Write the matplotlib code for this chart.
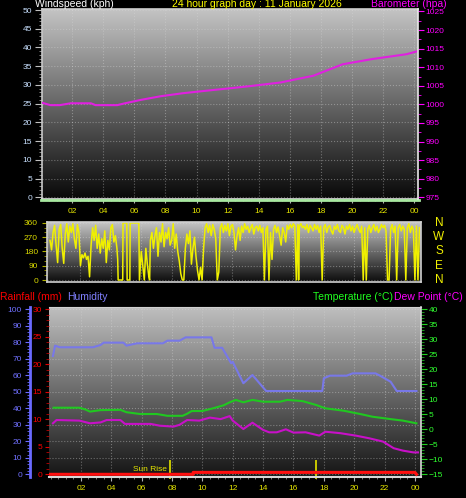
import numpy as np
import matplotlib
matplotlib.use("Agg")
import matplotlib.pyplot as plt
import matplotlib.transforms as mtransforms
from matplotlib.colors import LinearSegmentedColormap
from matplotlib.ticker import MultipleLocator

plt.rcParams.update({"font.family": ["Liberation Sans", "DejaVu Sans"], "font.size": 6})

W, H = 466, 498
PT = 0.72  # points per pixel at 100 dpi

# ---- data ----
hour_ticks = [2, 4, 6, 8, 10, 12, 14, 16, 18, 20, 22, 24]
hour_labels = ["02", "04", "06", "08", "10", "12", "14", "16", "18", "20", "22", "00"]

wind_h = [0.0, 24.3]
wind_kph = [0, 0]

baro_h = [0.1, 0.6, 1.2, 1.9, 3.2, 3.5, 4.9, 5.4, 6.4, 7.7, 9.1, 10.9, 12.3, 13.4,
          15.4, 17.5, 19.4, 21.3, 23.5, 24.2]
baro_hpa = [1000.4, 999.8, 999.8, 1000.3, 1000.3, 999.8, 999.8, 1000.3, 1001.2, 1002.2,
            1003.0, 1003.8, 1004.4, 1004.9, 1005.9, 1007.7, 1010.8, 1012.2, 1013.5, 1014.3]

wdir_h = [0.0, 0.1, 0.2, 0.3, 0.4, 0.5, 0.6, 0.7, 0.8, 0.9, 1.0, 1.1, 1.2, 1.3, 1.4, 1.5,
          1.6, 1.7, 1.8, 1.9, 2.0, 2.1, 2.2, 2.3, 2.4, 2.5, 2.6, 2.7, 2.8, 2.9, 3.0, 3.1,
          3.2, 3.3, 3.4, 3.5, 3.6, 3.7, 3.8, 3.9, 4.0, 4.1, 4.2, 4.3, 4.4, 4.45, 4.48, 4.78,
          4.8, 5.05, 5.07, 5.25, 5.27, 5.84, 5.88, 5.95, 6.0, 6.1, 6.2, 6.3, 6.4, 6.5, 6.55,
          6.6, 6.7, 6.8, 6.9, 7.0, 7.1, 7.2, 7.3, 7.4, 7.5, 7.6, 7.7, 7.8, 7.9, 8.0, 8.1,
          8.2, 8.3, 8.4, 8.5, 8.6, 8.7, 8.8, 8.9, 9.0, 9.1, 9.2, 9.3, 9.4, 9.5, 9.6, 9.7,
          9.8, 9.9, 10.0, 10.1, 10.2, 10.3, 10.4, 10.5, 10.6, 10.7, 10.8, 10.9, 11.0, 11.1,
          11.2, 11.3, 11.4, 11.5, 11.6, 11.7, 11.8, 11.9, 12.0, 12.1, 12.2, 12.3, 12.4,
          12.5, 12.6, 12.7, 12.8, 12.9, 13.0, 13.1, 13.2, 13.3, 13.4, 13.5, 13.6, 13.7,
          13.8, 13.9, 14.0, 14.1, 14.2, 14.3, 14.4, 14.5, 14.6, 14.7, 14.8, 14.9, 15.0,
          15.1, 15.2, 15.3, 15.4, 15.5, 15.6, 15.7, 15.8, 15.9, 16.0, 16.1, 16.2, 16.3,
          16.35, 16.4, 16.5, 16.6, 16.7, 16.8, 16.9, 17.0, 17.1, 17.2, 17.3, 17.4, 17.5,
          17.6, 17.7, 17.8, 17.9, 18.0, 18.1, 18.2, 18.3, 18.4, 18.5, 18.6, 18.7, 18.8,
          18.9, 19.0, 19.1, 19.2, 19.3, 19.4, 19.5, 19.6, 19.7, 19.8, 19.9, 20.0, 20.1,
          20.2, 20.3, 20.4, 20.5, 20.6, 20.7, 20.8, 20.9, 21.0, 21.1, 21.2, 21.3, 21.4,
          21.5, 21.6, 21.7, 21.8, 21.9, 22.0, 22.1, 22.2, 22.3, 22.4, 22.5, 22.6, 22.7,
          22.8, 22.9, 23.0, 23.1, 23.2, 23.3, 23.4, 23.5, 23.6, 23.7, 23.8, 23.9, 24.0,
          24.1, 24.2, 24.3]
wdir_deg = [250, 190, 300, 345, 220, 110, 320, 350, 200, 105, 290, 355, 240, 340, 300, 355,
            260, 200, 350, 300, 90, 160, 140, 170, 130, 150, 20, 220, 330, 250, 345, 200,
            290, 170, 260, 200, 310, 110, 250, 190, 330, 350, 240, 280, 200, 130, 0, 0,
            360, 360, 0, 0, 360, 360, 0, 100, 180, 90, 0, 200, 100, 20, 0,
            250, 300, 200, 280, 330, 150, 300, 240, 355, 210, 300, 260, 330, 220, 250, 355,
            200, 290, 180, 120, 40, 0, 0, 200, 290, 230, 310, 100, 200, 270, 150, 60,
            0, 80, 0, 200, 330, 355, 300, 345, 280, 350, 320, 260, 0, 50,
            330, 355, 300, 345, 310, 355, 280, 340, 350, 300, 190, 280, 330,
            250, 340, 300, 355, 320, 340, 300, 330, 350, 290, 330, 340, 310,
            345, 300, 330, 0, 320, 340, 0, 300, 130, 320, 345, 300, 335,
            280, 220, 330, 300, 240, 345, 320, 350, 330, 355, 340, 0, 350,
            0, 340, 355, 330, 340, 320, 350, 300, 345, 330, 310, 350, 320,
            345, 300, 340, 0, 330, 350, 300, 335, 345, 310, 290, 340, 320,
            350, 310, 300, 345, 330, 290, 340, 320, 350, 310, 340, 300, 330,
            350, 320, 300, 340, 0, 330, 0, 320, 345, 300, 330, 350, 310,
            340, 300, 320, 350, 330, 345, 310, 0, 0, 320, 350, 300, 340,
            0, 330, 350, 310, 340, 320, 0, 330, 355, 300, 340, 320, 0,
            340, 0, 330]

temp_h = [0.2, 1.9, 2.3, 2.6, 3.3, 4.6, 5.0, 5.9, 7.0, 7.7, 8.7, 9.0, 9.3, 10.0, 10.7,
          11.4, 11.8, 12.2, 12.7, 13.3, 14.0, 15.1, 15.6, 16.1, 16.6, 17.5, 18.1, 19.3,
          20.4, 21.2, 22.4, 23.2, 24.1]
temp_c = [7.2, 7.2, 6.6, 5.9, 6.4, 6.5, 5.7, 5.1, 5.1, 4.5, 4.5, 5.2, 6.1, 6.1, 7.0,
          8.0, 9.0, 9.8, 9.0, 9.8, 9.2, 9.2, 9.8, 9.6, 9.4, 8.1, 7.0, 6.2,
          5.1, 4.2, 3.4, 2.9, 2.0]

dew_h = [0.16, 0.4, 1.9, 2.6, 3.3, 3.7, 4.6, 4.9, 6.6, 7.2, 8.1, 8.5, 9.0, 9.8, 10.5,
         11.2, 11.8, 12.0, 12.7, 13.3, 14.0, 14.4, 14.9, 15.5, 16.0, 16.8, 17.7, 18.1,
         19.1, 20.1, 21.0, 21.9, 22.6, 23.2, 23.9, 24.2]
dew_c = [2.0, 3.1, 2.9, 2.0, 2.3, 3.1, 3.1, 1.8, 1.8, 1.2, 0.9, 1.5, 3.1, 2.9, 3.9,
         3.4, 4.4, 2.9, 0.1, 2.2, -0.2, -1.0, -1.0, 0.0, -1.1, -1.0, -2.1, -0.8,
         -1.3, -2.1, -3.0, -4.1, -6.3, -7.1, -7.7, -7.7]

hum_h = [0.16, 0.3, 0.6, 2.8, 3.3, 3.5, 4.8, 5.0, 5.7, 7.4, 7.7, 8.5, 8.9, 10.6, 10.8,
         11.3, 11.9, 12.0, 12.7, 13.3, 14.2, 16.8, 17.9, 18.0, 18.4, 19.5, 19.9, 21.4,
         21.7, 22.4, 22.8, 24.1]
hum_pct = [71.7, 78.0, 77.0, 77.0, 78.4, 79.8, 79.8, 78.0, 79.4, 79.4, 81.0, 81.0, 83.0,
           83.0, 76.7, 76.7, 67.3, 68.2, 55.2, 60.2, 50.5, 50.5, 50.5, 58.2, 59.8, 59.8,
           61.2, 61.2, 59.8, 56.1, 50.5, 50.5]

rain_h = [0.0, 9.4, 9.4, 24.0, 24.1]
rain_mm = [0.0, 0.0, 0.35, 0.35, 0.0]

sunrise_h = 7.87
sunset_h = 17.46

# ---- figure ----
fig = plt.figure(figsize=(W / 100, H / 100), dpi=100, facecolor="black")


def box(x0, y0, x1, y1):
    return [x0 / W, 1 - y1 / H, (x1 - x0) / W, (y1 - y0) / H]


def shade(ax, top, bottom):
    cm = LinearSegmentedColormap.from_list("g", [bottom, top])
    ax.imshow(np.linspace(1, 0, 256).reshape(-1, 1), cmap=cm, extent=(0, 1, 0, 1),
              transform=ax.transAxes, aspect="auto", interpolation="bilinear", zorder=-1)


GRID = dict(color="#d8d8d8", ls=":", lw=0.8, alpha=0.4)
XLAB = "#e6e600"

# ===== top panel: windspeed / barometer =====
axW = fig.add_axes(box(42, 9, 418, 199))
shade(axW, "#c4c4c4", "#080808")
axW.set_xlim(0.06, 24.24)
axW.set_ylim(-0.45, 50.27)
axW.plot(wind_h, wind_kph, color="#a8e8a0", lw=2.0, clip_on=False, zorder=5,
         transform=mtransforms.offset_copy(axW.transData, fig=fig, y=-3, units="dots"))
axW.set_yticks(range(0, 51, 5))
axW.yaxis.set_minor_locator(MultipleLocator(1))
axW.set_xticks(hour_ticks)
axW.set_xticklabels(hour_labels)
axW.xaxis.set_minor_locator(MultipleLocator(0.5))
axW.tick_params(axis="y", which="major", length=7 * PT, pad=3 * PT, colors="#c0c0c0",
                labelcolor="#c8e0ff")
axW.tick_params(axis="y", which="minor", length=3 * PT, color="#a0a0a0")
axW.tick_params(axis="x", which="major", length=4 * PT, pad=5 * PT, colors="#b0b0b0",
                labelcolor=XLAB)
axW.tick_params(axis="x", which="minor", length=2 * PT, color="#909090")
axW.grid(True, **GRID)
for s, c in (("left", "#c8c8c8"), ("bottom", "#e0e0e0"), ("top", "#d0d0d0")):
    axW.spines[s].set_color(c)
    axW.spines[s].set_linewidth(1.2)
axW.spines["right"].set_visible(False)

axP = axW.twinx()
axP.plot(baro_h, baro_hpa, color="#e020e0", lw=1.5)
axP.set_ylim(974.54, 1025.67)
axP.set_yticks(range(975, 1026, 5))
axP.yaxis.set_minor_locator(MultipleLocator(2.5))
axP.tick_params(axis="y", which="major", length=6 * PT, pad=1, colors="#ff00ff")
axP.tick_params(axis="y", which="minor", length=3 * PT, colors="#ff00ff")
for s in ("left", "top", "bottom"):
    axP.spines[s].set_visible(False)
axP.spines["right"].set_color("#e8e8e8")
axP.spines["right"].set_linewidth(1.2)

fig.text(35 / W, 1 - 7 / H, "Windspeed (kph)", color="white", fontsize=7.5, va="baseline")
fig.text(172 / W, 1 - 7 / H, "24 hour graph day : 11 January 2026", color="#ffff00",
         fontsize=7.5, va="baseline")
fig.text(371 / W, 1 - 7 / H, "Barometer (hpa)", color="#ff00ff", fontsize=7.5,
         va="baseline")

# ===== middle panel: wind direction =====
axD = fig.add_axes(box(47, 222, 421, 282))
shade(axD, "#c8c8c8", "#0c0c0c")
axD.plot(wdir_h, wdir_deg, color="#f0f000", lw=1.1)
axD.set_xlim(-0.2, 24.4)
axD.set_ylim(-12.6, 366)
axD.set_yticks([0, 90, 180, 270, 360])
axD.yaxis.set_minor_locator(MultipleLocator(30))
axD.set_xticks(hour_ticks)
axD.tick_params(axis="x", length=0, labelbottom=False)
axD.tick_params(axis="y", which="major", length=5 * PT, pad=4 * PT, colors="#b0b000",
                labelcolor="#d8d800")
axD.tick_params(axis="y", which="minor", length=3 * PT, colors="#a0a000")
axD.grid(True, **GRID)
for s in axD.spines.values():
    s.set_color("#d0d0d0")
    s.set_linewidth(1.2)
compass = ["N", "W", "S", "E", "N"]
compass_deg = [360, 270, 180, 90, 0]
tr = mtransforms.blended_transform_factory(axD.transAxes, axD.transData)
for lab, d in zip(compass, compass_deg):
    axD.text(1.048, d, lab, transform=tr, color="#f0f000", fontsize=8.5,
             ha="center", va="center")

# ===== bottom panel: rain / humidity / temperature / dew point =====
axH = fig.add_axes(box(49, 307, 421, 477))
shade(axH, "#c0c0c0", "#141414")
axH.plot(hum_h, hum_pct, color="#7878e8", lw=1.5)
axH.set_xlim(-0.1, 24.4)
axH.set_ylim(-1.6, 101.4)
axH.set_yticks(range(0, 101, 10))
axH.yaxis.set_minor_locator(MultipleLocator(2))
axH.set_xticks(hour_ticks)
axH.set_xticklabels(hour_labels)
axH.xaxis.set_minor_locator(MultipleLocator(0.5))
axH.spines["left"].set_position(("outward", 19 * PT))
axH.spines["left"].set_color("#6a6aff")
axH.spines["left"].set_linewidth(2)
axH.spines["bottom"].set_color("#d8d8d8")
axH.spines["bottom"].set_linewidth(1.5)
axH.spines["top"].set_color("#d0d0d0")
axH.spines["right"].set_visible(False)
axH.tick_params(axis="y", which="major", length=5 * PT, pad=3 * PT, colors="#6a6aff",
                labelcolor="#7070ff")
axH.tick_params(axis="y", which="minor", length=3 * PT, colors="#6a6aff")
axH.tick_params(axis="x", which="major", length=4 * PT, pad=4 * PT, colors="#b0b0b0",
                labelcolor=XLAB)
axH.tick_params(axis="x", which="minor", length=2 * PT, color="#909090")
axH.grid(True, **GRID)

sun_tr = mtransforms.blended_transform_factory(axH.transData, axH.transAxes)
for h in (sunrise_h, sunset_h):
    axH.axvline(h, ymin=-0.006, ymax=0.094, color="#c8c800", lw=1.4, clip_on=False)
# label placed beside the sunrise marker so it does not collide with the hour labels
axH.text(sunrise_h - 0.2, 0.045, "Sun Rise", transform=sun_tr, color=XLAB, fontsize=6,
         ha="right", va="center")

axR = axH.twinx()
axR.plot(rain_h, rain_mm, color="#ff1010", lw=2.2)
axR.set_ylim(-0.49, 30.42)
axR.set_yticks(range(0, 31, 5))
axR.yaxis.set_minor_locator(MultipleLocator(1))
axR.yaxis.tick_left()
axR.tick_params(axis="y", which="major", length=4 * PT, pad=3 * PT, colors="#e00000",
                labelcolor="#ff0000")
axR.tick_params(axis="y", which="minor", length=3 * PT, colors="#c00000")
for s in axR.spines.values():
    s.set_visible(False)

axT = axH.twinx()
axT.plot(temp_h, temp_c, color="#20c820", lw=1.5)
axT.plot(dew_h, dew_c, color="#c810c8", lw=1.5)
axT.set_ylim(-15.9, 40.77)
axT.set_yticks(range(-15, 41, 5))
axT.yaxis.set_minor_locator(MultipleLocator(1))
axT.tick_params(axis="y", which="major", length=6 * PT, pad=1, colors="#20d020",
                labelcolor="#30ff30")
axT.tick_params(axis="y", which="minor", length=3 * PT, colors="#20b020")
for s in ("left", "top", "bottom"):
    axT.spines[s].set_visible(False)
axT.spines["right"].set_color("#d8d8d8")
axT.spines["right"].set_linewidth(1.2)

fig.text(0 / W, 1 - 300 / H, "Rainfall (mm)", color="#ff0000", fontsize=7.5, va="baseline")
fig.text(67 / W, 1 - 300 / H, "Humidity", color="#8080ff", fontsize=7.5, va="baseline")
fig.text(313 / W, 1 - 300 / H, "Temperature (\u00b0C)", color="#20ff20", fontsize=7.5,
         va="baseline")
fig.text(394 / W, 1 - 300 / H, "Dew Point (\u00b0C)", color="#ff00ff", fontsize=7.5,
         va="baseline")

fig.savefig("out.png", dpi=100, facecolor="black")
